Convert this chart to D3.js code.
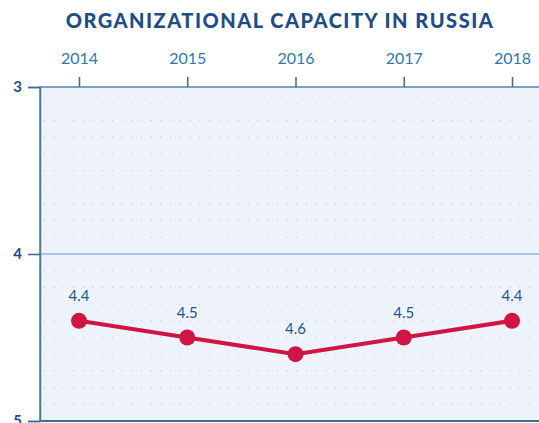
<!DOCTYPE html>
<html>
<head>
<meta charset="utf-8">
<script src="https://cdn.jsdelivr.net/npm/d3@7"></script>
<style>
  body { margin: 0; background: #fff; }
  svg { display: block; }
</style>
</head>
<body>
<div id="chart"></div>
<script>
const years = ["2014", "2015", "2016", "2017", "2018"];
const scores = [4.4, 4.5, 4.6, 4.5, 4.4];
const yTicks = [3, 4, 5];
const gridSteps = d3.range(3.1, 5, 0.1);

const width = 539, height = 423;
const plotLeft = 40, plotTop = 87, plotBottom = 421;

const svg = d3.select("#chart").append("svg")
  .attr("width", width).attr("height", height);

const x = d3.scalePoint().domain(years).range([79, 512]);
const y = d3.scaleLinear().domain([3, 5]).range([plotTop, plotBottom]);

// plot background
svg.append("rect")
  .attr("x", plotLeft).attr("y", plotTop)
  .attr("width", width - plotLeft + 5).attr("height", plotBottom - plotTop)
  .attr("fill", "#eef3fb")
  .attr("stroke", "#5e86a6").attr("stroke-width", 1.5);

// dotted grid
svg.append("g").selectAll("line")
  .data(gridSteps.filter(d => Math.abs(d - 4) > 0.01))
  .enter().append("line")
  .attr("x1", plotLeft + 4).attr("x2", width)
  .attr("y1", d => y(d)).attr("y2", d => y(d))
  .attr("stroke", "#bccbdb").attr("stroke-width", 1.1)
  .attr("stroke-dasharray", "1.1,8.6");

// solid line at 4
svg.append("line")
  .attr("x1", plotLeft).attr("x2", width)
  .attr("y1", y(4)).attr("y2", y(4))
  .attr("stroke", "#a8c6e4").attr("stroke-width", 1.8);

// bottom border
svg.append("line")
  .attr("x1", plotLeft).attr("x2", width)
  .attr("y1", plotBottom).attr("y2", plotBottom)
  .attr("stroke", "#3f6e8c").attr("stroke-width", 2);

// left axis
const yAxis = svg.append("g")
  .attr("transform", `translate(${plotLeft},0)`)
  .call(d3.axisLeft(y).tickValues(yTicks).tickSize(12).tickPadding(6).tickFormat(d3.format("d")));
yAxis.select(".domain").attr("stroke", "#4f7898").attr("stroke-width", 1.5);
yAxis.selectAll(".tick line").attr("stroke", "#3a6a96").attr("stroke-width", 1.5);
yAxis.selectAll(".tick text")
  .attr("fill", "#1f4f86").style("font-family", "Lato").style("font-size", "15px").style("font-weight", "700");

// top axis
const xAxis = svg.append("g")
  .attr("transform", `translate(0,${plotTop})`)
  .call(d3.axisTop(x).tickSize(10).tickPadding(13));
xAxis.select(".domain").remove();
xAxis.selectAll(".tick line").attr("stroke", "#3a6a96").attr("stroke-width", 1.5);
xAxis.selectAll(".tick text")
  .attr("fill", "#2f78ad").style("font-family", "Lato").style("font-size", "16px");

// line
svg.append("path")
  .datum(scores)
  .attr("fill", "none")
  .attr("stroke", "#cf1543").attr("stroke-width", 4)
  .attr("d", d3.line().x((d, i) => x(years[i])).y(d => y(d)));

svg.append("g").selectAll("circle")
  .data(scores).enter().append("circle")
  .attr("cx", (d, i) => x(years[i])).attr("cy", d => y(d))
  .attr("r", 8).attr("fill", "#cf1543");

svg.append("g").selectAll("text")
  .data(scores).enter().append("text")
  .attr("x", (d, i) => x(years[i])).attr("y", d => y(d) - 20)
  .attr("text-anchor", "middle")
  .attr("fill", "#23578c")
  .style("font-family", "Lato").style("font-size", "15px")
  .text(d => d3.format(".1f")(d));

// title
svg.append("text")
  .attr("x", 280).attr("y", 28)
  .attr("text-anchor", "middle")
  .attr("fill", "#1d4c86")
  .style("font-family", "Lato").style("font-weight", "900").style("font-size", "20px")
  .style("letter-spacing", "1.5px")
  .text("ORGANIZATIONAL CAPACITY IN RUSSIA");
</script>
</body>
</html>
